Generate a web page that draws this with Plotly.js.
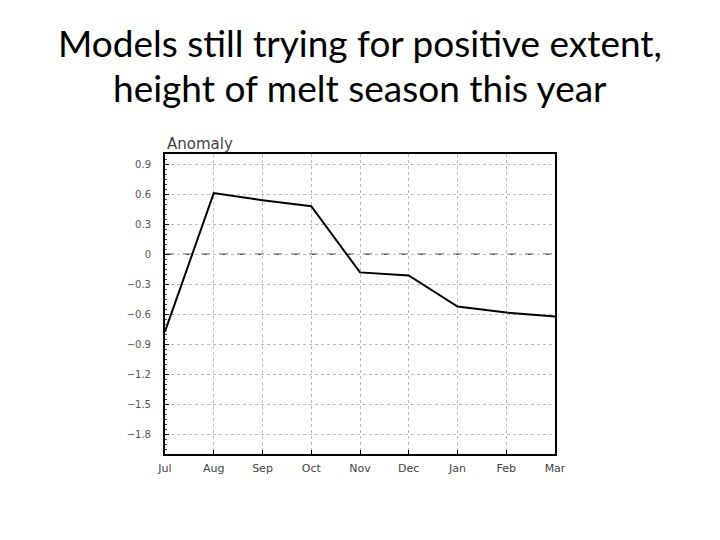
<!DOCTYPE html>
<html>
<head>
<meta charset="utf-8">
<script src="https://cdn.plot.ly/plotly-3.0.1.min.js"></script>
<style>html,body{margin:0;padding:0;background:#fff;}#chart{width:720px;height:540px;}</style>
</head>
<body>
<div id="chart"></div>
<script>
var months = ["Jul","Aug","Sep","Oct","Nov","Dec","Jan","Feb","Mar"];
var anomaly = [-0.77, 0.61, 0.54, 0.48, -0.18, -0.21, -0.52, -0.58, -0.62];
var yTickVals = [-1.8,-1.5,-1.2,-0.9,-0.6,-0.3,0,0.3,0.6,0.9];
var yTickText = ["\u22121.8","\u22121.5","\u22121.2","\u22120.9","\u22120.6","\u22120.3","0","0.3","0.6","0.9"];
var titleLines = ["Models still trying for positive extent,","height of melt season this year"];
var panelLabel = "Anomaly";

var xIdx = months.map(function(m,i){return i;});

var trace = {
  x: xIdx, y: anomaly, type: "scatter", mode: "lines",
  line: {color: "#000", width: 2}, hoverinfo: "skip", showlegend: false
};

var layout = {
  width: 720, height: 540,
  margin: {l: 165, r: 165, t: 154, b: 86},
  paper_bgcolor: "#fff", plot_bgcolor: "#fff",
  showlegend: false,
  xaxis: {
    range: [0, months.length - 1],
    tickvals: xIdx, ticktext: months,
    ticks: "inside", ticklen: 4, tickcolor: "#000",
    ticklabelstandoff: 3,
    showgrid: true, gridcolor: "#bbb", griddash: "dot", gridwidth: 1,
    showline: true, linecolor: "#000", linewidth: 2, mirror: true,
    zeroline: false, fixedrange: true,
    tickfont: {family: "DejaVu Sans, sans-serif", size: 11, color: "#444"}
  },
  yaxis: {
    range: [-1.99, 1.0],
    tickvals: yTickVals, ticktext: yTickText,
    ticks: "inside", ticklen: 4, tickcolor: "#000",
    ticklabelstandoff: 10,
    minor: {dtick: 0.05, ticks: "inside", ticklen: 2, tickcolor: "#444", showgrid: false},
    showgrid: true, gridcolor: "#bbb", griddash: "dot", gridwidth: 1,
    showline: true, linecolor: "#000", linewidth: 2, mirror: true,
    zeroline: false, fixedrange: true,
    tickfont: {family: "DejaVu Sans, sans-serif", size: 10, color: "#555"}
  },
  shapes: [{
    type: "line", xref: "paper", x0: 0, x1: 1, yref: "y", y0: 0, y1: 0,
    line: {color: "#555", width: 1.5, dash: "dash"}, layer: "below"
  }],
  annotations: [
    {text: titleLines[0], xref: "paper", yref: "paper", x: 0.5, y: 1.37, xanchor: "center", yanchor: "middle",
     showarrow: false, font: {family: "Lato, Open Sans, sans-serif", size: 37, color: "#000"}},
    {text: titleLines[1], xref: "paper", yref: "paper", x: 0.5, y: 1.222, xanchor: "center", yanchor: "middle",
     showarrow: false, font: {family: "Lato, Open Sans, sans-serif", size: 37, color: "#000"}},
    {text: panelLabel, xref: "paper", yref: "paper", x: 0, y: 1.0, xanchor: "left", yanchor: "bottom",
     showarrow: false, yshift: -1, font: {family: "DejaVu Sans, sans-serif", size: 15, color: "#444"}}
  ]
};

Plotly.newPlot("chart", [trace], layout, {staticPlot: true, displayModeBar: false});
</script>
</body>
</html>
